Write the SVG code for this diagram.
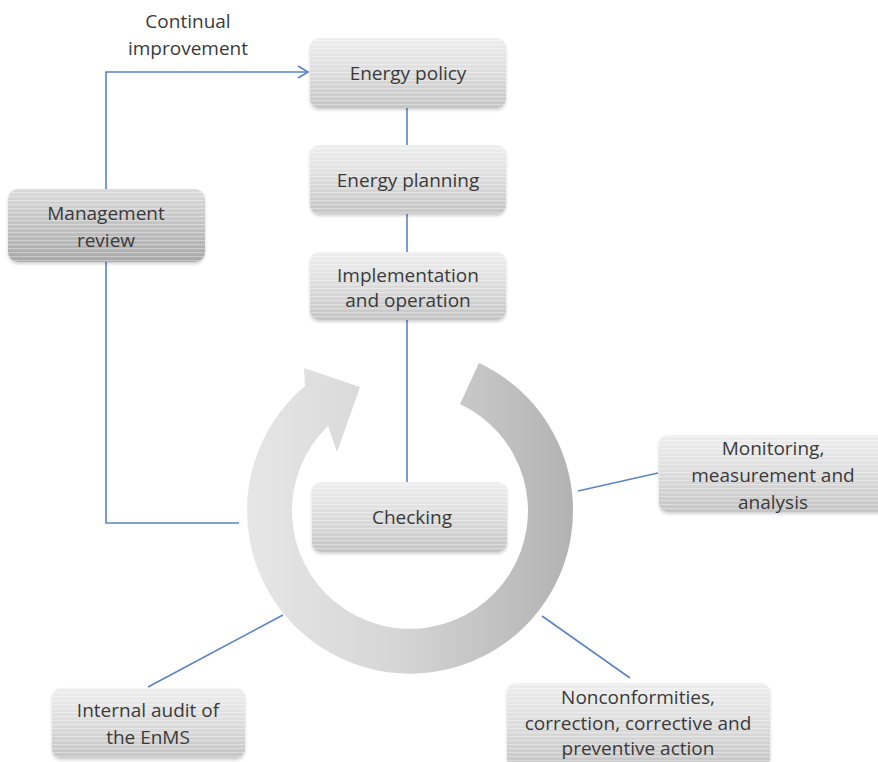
<svg xmlns="http://www.w3.org/2000/svg" width="878" height="762" viewBox="0 0 878 762">
<defs>
  <linearGradient id="boxg" x1="0" y1="0" x2="0" y2="1">
    <stop offset="0" stop-color="#eeeeee"/>
    <stop offset="0.5" stop-color="#dcdcdc"/>
    <stop offset="1" stop-color="#c4c4c4"/>
  </linearGradient>
  <linearGradient id="boxd" x1="0" y1="0" x2="0" y2="1">
    <stop offset="0" stop-color="#dadada"/>
    <stop offset="0.5" stop-color="#c2c2c2"/>
    <stop offset="1" stop-color="#a6a6a6"/>
  </linearGradient>
  <linearGradient id="ringg" x1="0" y1="0" x2="1" y2="0">
    <stop offset="0" stop-color="#e6e6e6"/>
    <stop offset="0.45" stop-color="#d6d6d6"/>
    <stop offset="1" stop-color="#b2b2b2"/>
  </linearGradient>
  <pattern id="stripes" width="8" height="4" patternUnits="userSpaceOnUse">
    <rect width="8" height="1.2" fill="#ffffff" fill-opacity="0.35"/>
  </pattern>
  <filter id="sh" x="-10%" y="-10%" width="120%" height="130%">
    <feDropShadow dx="0" dy="2" stdDeviation="1.5" flood-color="#000" flood-opacity="0.18"/>
  </filter>
  <marker id="open" markerWidth="14" markerHeight="14" refX="12" refY="7" orient="auto" markerUnits="userSpaceOnUse">
    <path d="M2,1 L12,7 L2,13" fill="none" stroke="#5b84c4" stroke-width="1.6"/>
  </marker>
</defs>
<style>
  .box{fill:url(#boxg);filter:url(#sh)}
  .boxd{fill:url(#boxd);filter:url(#sh)}
  .str{fill:url(#stripes)}
  .t{font-family:"Open Sans","Noto Sans","Liberation Sans",sans-serif;font-size:19px;fill:#3a3a3a;text-anchor:middle}
  .c{fill:none;stroke:#5b84c4;stroke-width:1.6}
</style>
<rect width="878" height="762" fill="#ffffff"/>

<g id="cycle">
  <path d="M479,363 A163,163 0 1 1 305,386 L304,368 L360,387 L337,452 L328,426 A118,118 0 1 0 460,404 Z" fill="url(#ringg)"/>
</g>

<g id="connectors">
  <path class="c" d="M106,189 V72 H308" marker-end="url(#open)"/>
  <path class="c" d="M106,262 V523 H239"/>
  <path class="c" d="M407,108 V145"/>
  <path class="c" d="M407,214 V252"/>
  <path class="c" d="M407,320 V482"/>
  <path class="c" d="M578,491 L658,473"/>
  <path class="c" d="M542,616 L630,678"/>
  <path class="c" d="M283,615 L148,687"/>
</g>

<g id="label-continual">
  <text class="t" x="188" y="28">Continual</text>
  <text class="t" x="188" y="55">improvement</text>
</g>

<g id="energy-policy">
  <rect class="box" x="310" y="38" width="196" height="70" rx="9"/>
  <rect class="str" x="310" y="38" width="196" height="70" rx="9"/>
  <text class="t" x="408" y="80">Energy policy</text>
</g>

<g id="energy-planning">
  <rect class="box" x="310" y="145" width="196" height="69" rx="9"/>
  <rect class="str" x="310" y="145" width="196" height="69" rx="9"/>
  <text class="t" x="408" y="187">Energy planning</text>
</g>

<g id="implementation">
  <rect class="box" x="310" y="252" width="196" height="68" rx="9"/>
  <rect class="str" x="310" y="252" width="196" height="68" rx="9"/>
  <text class="t" x="408" y="282">Implementation</text>
  <text class="t" x="408" y="307">and operation</text>
</g>

<g id="management-review">
  <rect class="boxd" x="8" y="189" width="197" height="73" rx="10"/>
  <rect class="str" x="8" y="189" width="197" height="73" rx="10"/>
  <text class="t" x="106" y="220">Management</text>
  <text class="t" x="106" y="247">review</text>
</g>

<g id="checking">
  <rect class="box" x="312" y="482" width="195" height="70" rx="9"/>
  <rect class="str" x="312" y="482" width="195" height="70" rx="9"/>
  <text class="t" x="412" y="524">Checking</text>
</g>

<g id="monitoring">
  <rect class="box" x="659" y="435" width="230" height="77" rx="9"/>
  <rect class="str" x="659" y="435" width="230" height="77" rx="9"/>
  <text class="t" x="773" y="455">Monitoring,</text>
  <text class="t" x="773" y="482">measurement and</text>
  <text class="t" x="773" y="509">analysis</text>
</g>

<g id="nonconformities">
  <rect class="box" x="507" y="683" width="263" height="85" rx="9"/>
  <rect class="str" x="507" y="683" width="263" height="85" rx="9"/>
  <text class="t" x="638" y="704">Nonconformities,</text>
  <text class="t" x="638" y="730">correction, corrective and</text>
  <text class="t" x="638" y="755">preventive action</text>
</g>

<g id="internal-audit">
  <rect class="box" x="52" y="688" width="193" height="70" rx="9"/>
  <rect class="str" x="52" y="688" width="193" height="70" rx="9"/>
  <text class="t" x="148" y="717">Internal audit of</text>
  <text class="t" x="148" y="744">the EnMS</text>
</g>
</svg>
